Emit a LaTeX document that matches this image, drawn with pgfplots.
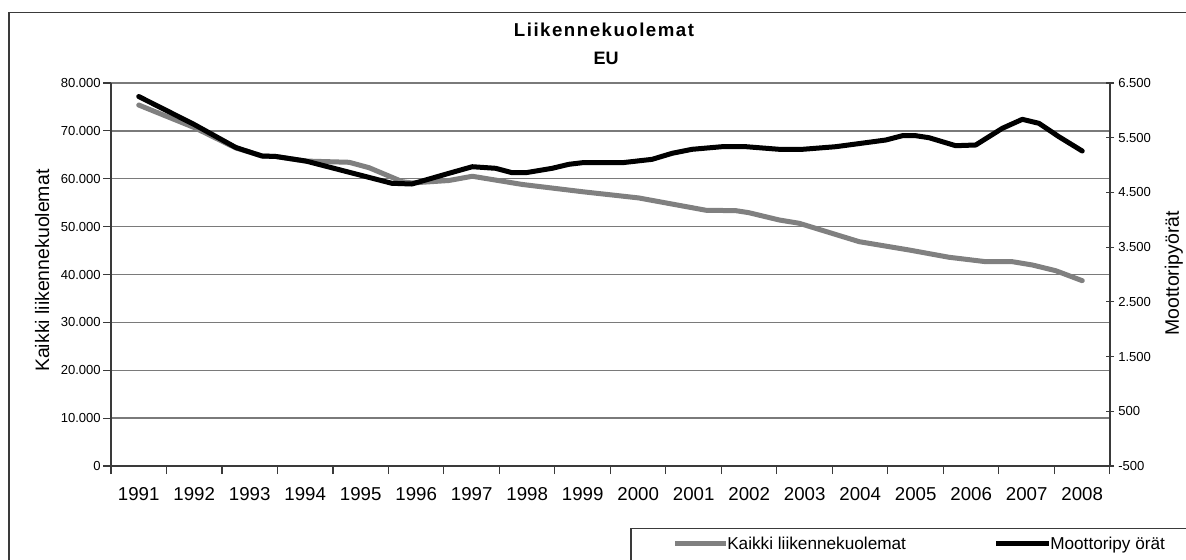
\documentclass[border=0pt]{standalone}
\usepackage{fontspec}
\setmainfont{Liberation Sans}
\usepackage{pgfplots}
\pgfplotsset{compat=1.18}
\pgfplotstableread{
x v
1991.00 75400
1992.00 70700
1992.75 66430
1993.22 64760
1993.47 64650
1994.00 63700
1994.79 63440
1995.15 62310
1995.75 59390
1995.92 59120
1996.59 59640
1997.01 60520
1997.91 58810
1998.99 57300
2000.01 55990
2001.22 53420
2001.76 53330
2001.99 52920
2002.54 51390
2002.90 50700
2003.98 46860
2004.88 45120
2005.60 43600
2006.26 42680
2006.74 42680
2007.10 41990
2007.52 40800
2008.00 38710
}\kaikki
\pgfplotstableread{
x v
1991.00 6253
1992.00 5741
1992.75 5321
1993.22 5166
1993.47 5157
1994.01 5074
1995.56 4667
1995.92 4654
1996.59 4850
1997.01 4970
1997.43 4941
1997.73 4860
1997.97 4860
1998.45 4941
1998.75 5014
1998.99 5043
1999.71 5043
2000.25 5105
2000.61 5215
2000.97 5288
2001.51 5336
2001.94 5336
2002.54 5288
2002.96 5288
2003.56 5336
2004.46 5458
2004.76 5537
2005.00 5537
2005.24 5500
2005.72 5354
2006.08 5367
2006.56 5672
2006.92 5836
2007.22 5763
2007.58 5518
2008.00 5257
}\moottori
\definecolor{sergrey}{HTML}{808080}
\definecolor{gridc}{HTML}{7A7A7A}
\definecolor{axc}{HTML}{3A3A3A}
\begin{document}
\begin{tikzpicture}[x=0.75pt,y=-0.75pt]
\path[use as bounding box] (0,0) rectangle (1186,560);
\clip (0,0) rectangle (1186,560);
\fill[white] (0,0) rectangle (1186,560);
\draw[axc, line width=1.1pt] (9,12.5) rectangle (1300,700);
\node[anchor=base, font=\bfseries\fontsize{14}{16}\selectfont\addfontfeature{LetterSpace=8}] at (604,36.7) {Liikennekuolemat};
\node[anchor=base, font=\bfseries\fontsize{13.5}{16}\selectfont] at (606,65) {EU};
\begin{axis}[
  at={(83.25pt,-349.5pt)}, anchor=south west,
  width=749.25pt, height=287.25pt, scale only axis,
  xmin=1990.5, xmax=2008.5, ymin=0, ymax=80000,
  scaled y ticks=false,
  axis x line=bottom, axis y line=left,
  x axis line style={-, axc, line width=1.1pt},
  y axis line style={-, axc, line width=1.1pt},
  tick align=outside, major tick length=6pt,
  tick style={axc, line width=0.8pt},
  xtick={1990.5,1991.5,...,2008.5}, xticklabels={},
  extra x ticks={1991,...,2008},
  extra x tick labels={1991,1992,1993,1994,1995,1996,1997,1998,1999,2000,2001,2002,2003,2004,2005,2006,2007,2008},
  extra x tick style={major tick length=0pt, grid=none,
     xticklabel style={font=\fontsize{14}{16}\selectfont, inner sep=0pt, anchor=north, yshift=-16pt}},
  ytick={0,10000,...,80000},
  yticklabels={0,10.000,20.000,30.000,40.000,50.000,60.000,70.000,80.000},
  yticklabel style={font=\fontsize{9.8}{11}\selectfont, inner sep=0pt, anchor=east, xshift=-1.5pt},
  ymajorgrids, grid style={gridc, line width=1.1pt},
  ylabel={Kaikki liikennekuolemat},
  every axis y label/.style={at={(axis description cs:-0.069,0.51)}, rotate=90, anchor=center, font=\fontsize{14.6}{17}\selectfont},
  clip=false,
]
\addplot[sergrey, line width=3.75pt, line join=round, line cap=round] table[x=x,y=v] {\kaikki};
\end{axis}
\begin{axis}[
  at={(83.25pt,-349.5pt)}, anchor=south west,
  width=749.25pt, height=287.25pt, scale only axis,
  xmin=1990.5, xmax=2008.5, ymin=-500, ymax=6500,
  scaled y ticks=false,
  axis x line=none, axis y line=right,
  y axis line style={-, axc, line width=1.1pt},
  ytick align=center, major tick length=6pt,
  tick style={axc, line width=0.8pt},
  ytick={-500,500,...,6500},
  yticklabels={-500,500,1.500,2.500,3.500,4.500,5.500,6.500},
  yticklabel style={font=\fontsize{9.8}{11}\selectfont, inner sep=0pt, anchor=west, xshift=3pt},
  ylabel={Moottoripyörät},
  every axis y label/.style={at={(axis description cs:1.064,0.503)}, rotate=90, anchor=center, font=\fontsize{14.6}{17}\selectfont},
  clip=false,
]
\addplot[black, line width=3.75pt, line join=round, line cap=round] table[x=x,y=v] {\moottori};
\end{axis}
\draw[axc, line width=0.8pt, fill=white] (631,528.5) rectangle (1300,700);
\draw[sergrey, line width=3.75pt] (675,543) -- (726,543);
\node[anchor=base west, inner sep=0pt, font=\fontsize{12.9}{15}\selectfont] at (727,549.5) {Kaikki liikennekuolemat};
\draw[black, line width=3.75pt] (996,543) -- (1049,543);
\node[anchor=base west, inner sep=0pt, font=\fontsize{12.9}{15}\selectfont] at (1050,549.5) {Moottoripy örät};
\end{tikzpicture}
\end{document}
